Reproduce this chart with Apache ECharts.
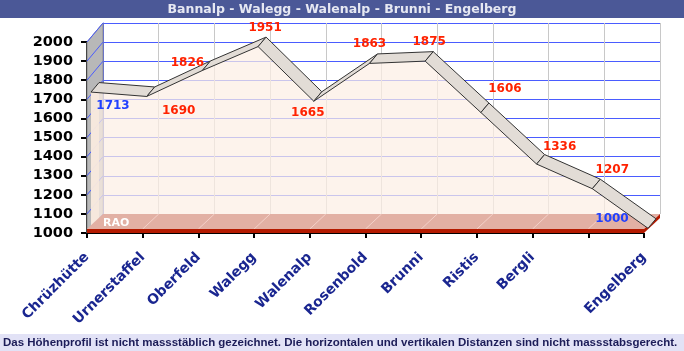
<!DOCTYPE html>
<html>
<head>
<meta charset="utf-8">
<script src="https://cdn.jsdelivr.net/npm/echarts@6/dist/echarts.min.js"></script>
<style>
  html, body { margin: 0; padding: 0; background: #fff; }
  #chart { width: 684px; height: 351px; }
</style>
</head>
<body>
<div id="chart"></div>
<script>
const title = 'Bannalp - Walegg - Walenalp - Brunni - Engelberg'
const note = 'Das Höhenprofil ist nicht massstäblich gezeichnet. Die horizontalen und vertikalen Distanzen sind nicht massstabsgerecht.'
const stations = ['Chrüzhütte', 'Urnerstaffel', 'Oberfeld', 'Walegg', 'Walenalp', 'Rosenbold', 'Brunni', 'Ristis', 'Bergli', '', 'Engelberg']
const heights = [1713, 1690, 1826, 1951, 1665, 1863, 1875, 1606, 1336, 1207, 1000]
const yMin = 1000
const yMax = 2000
const yStep = 100

// nur Darstellung: Versatz der Wertbeschriftung zum Punkt (px)
const labelOffsets = [[26, 9], [36, 10], [-11, -12], [11, -23], [-2, 7], [4, -24], [8, -24], [28, -28], [27, -22], [24, -24], [-32, -14]]
// Tiefe der 3D-Ansicht
const DX = 16
const DY = -19

const myChart = echarts.init(document.getElementById('chart'))

function shift (p, k) {
  return [p[0] + DX * k, p[1] + DY * k]
}

function renderProfile (params, api) {
  const children = []
  const n = heights.length
  const base0 = api.coord([0, yMin])
  const baseN = api.coord([n - 1, yMin])
  const top0 = api.coord([0, yMax])

  // Seitenwand links
  children.push({
    type: 'polygon',
    shape: { points: [top0, shift(top0, 1), shift(base0, 1), base0] },
    style: { fill: '#b8b8b8', stroke: '#8a8a8a', lineWidth: 1 }
  })
  for (let v = yMin; v <= yMax; v += yStep) {
    const p = api.coord([0, v])
    children.push({
      type: 'line',
      shape: { x1: p[0], y1: p[1], x2: p[0] + DX, y2: p[1] + DY },
      style: { stroke: '#4a5cff', lineWidth: 1 }
    })
  }

  const pts = heights.map((h, i) => api.coord([i, h]))
  const front = pts.map(p => shift(p, 0.25))
  const back = pts.map(p => shift(p, 0.75))

  // Fläche unter dem Profil
  children.push({
    type: 'polygon',
    shape: { points: [front[0], back[0], shift(base0, 0.75), shift(base0, 0.25)] },
    style: { fill: 'rgba(236,218,204,0.85)' }
  })
  children.push({
    type: 'polygon',
    shape: { points: front.concat([shift(baseN, 0.25), shift(base0, 0.25)]) },
    style: { fill: 'rgba(252,238,228,0.72)' }
  })

  // Boden
  const b = base0[1]
  children.push({
    type: 'polygon',
    shape: { points: [[base0[0], b - 4], [baseN[0], b - 4], [baseN[0] + DX, b + DY], [base0[0] + DX, b + DY]] },
    style: { fill: '#e2b0a4' }
  })
  for (let i = 1; i < n; i++) {
    const x = api.coord([i, yMin])[0]
    children.push({
      type: 'line',
      shape: { x1: x, y1: b - 4, x2: x + DX, y2: b + DY },
      style: { stroke: 'rgba(255,230,225,0.6)', lineWidth: 1 }
    })
  }
  children.push({
    type: 'polygon',
    shape: { points: [[base0[0], b - 4], [baseN[0], b - 4], [baseN[0], b], [base0[0], b]] },
    style: { fill: '#b41a00' }
  })
  children.push({
    type: 'polygon',
    shape: { points: [[baseN[0], b - 4], [baseN[0] + DX, b + DY], [baseN[0] + DX, b + DY + 4], [baseN[0], b]] },
    style: { fill: '#b41a00' }
  })
  children.push({
    type: 'text',
    x: base0[0] + 16,
    y: b - 10,
    style: { text: 'RAO', fill: '#ffffff', font: 'bold 11px "DejaVu Sans"', align: 'left', verticalAlign: 'middle' }
  })

  // Band
  for (let i = 0; i < n - 1; i++) {
    children.push({
      type: 'polygon',
      shape: { points: [front[i], front[i + 1], back[i + 1], back[i]] },
      style: { fill: '#e2dcd6', stroke: '#333333', lineWidth: 1 }
    })
  }

  // Werte
  heights.forEach((h, i) => {
    const blue = i === 0 || i === n - 1
    children.push({
      type: 'text',
      x: pts[i][0] + labelOffsets[i][0],
      y: pts[i][1] + labelOffsets[i][1],
      style: {
        text: String(h),
        fill: blue ? '#2040ff' : '#ff2200',
        font: 'bold 12px "DejaVu Sans"',
        align: 'center',
        verticalAlign: 'middle'
      }
    })
  })

  return { type: 'group', children: children }
}

const option = {
  animation: false,
  backgroundColor: '#ffffff',
  grid: [
    { left: 103, right: 24, top: 23, bottom: 137 },
    { left: 87, right: 40, top: 42, bottom: 118 }
  ],
  xAxis: [
    {
      type: 'category',
      gridIndex: 0,
      data: stations,
      boundaryGap: false,
      axisLine: { show: false },
      axisTick: { show: false },
      axisLabel: { show: false },
      splitLine: { show: true, interval: 0, lineStyle: { color: '#c8c8c8', width: 1 } }
    },
    {
      type: 'category',
      gridIndex: 1,
      data: stations,
      boundaryGap: false,
      axisLine: { show: true, lineStyle: { color: '#000', width: 1 } },
      axisTick: { show: true, interval: 0, length: 5, lineStyle: { color: '#000', width: 2 } },
      axisLabel: {
        interval: 0,
        rotate: 45,
        margin: 22,
        color: '#1a2690',
        fontWeight: 'bold',
        fontSize: 14,
        fontFamily: 'DejaVu Sans'
      },
      splitLine: { show: false }
    }
  ],
  yAxis: [
    {
      type: 'value',
      gridIndex: 0,
      min: yMin,
      max: yMax,
      interval: yStep,
      axisLine: { show: true, lineStyle: { color: '#4a5cff' } },
      axisTick: { show: false },
      axisLabel: { show: false },
      splitLine: { show: true, lineStyle: { color: '#4a5cff', width: 1 } }
    },
    {
      type: 'value',
      gridIndex: 1,
      min: yMin,
      max: yMax,
      interval: yStep,
      axisLine: { show: true, lineStyle: { color: '#000', width: 2 } },
      axisTick: { show: true, length: 6, lineStyle: { color: '#000', width: 2 } },
      axisLabel: {
        margin: 14,
        color: '#000',
        fontWeight: 'bold',
        fontSize: 14.5,
        fontFamily: 'DejaVu Sans',
        formatter: function (v) { return String(v) }
      },
      splitLine: { show: false }
    }
  ],
  series: [
    {
      type: 'custom',
      xAxisIndex: 1,
      yAxisIndex: 1,
      silent: true,
      z: 10,
      data: [[0, yMin]],
      renderItem: renderProfile
    }
  ],
  graphic: [
    {
      type: 'rect',
      left: 0,
      top: 0,
      shape: { width: 684, height: 18 },
      style: { fill: '#4b5897' }
    },
    {
      type: 'text',
      left: 'center',
      top: 3,
      style: { text: title, fill: '#e6e8f2', font: 'bold 12.5px "DejaVu Sans"' }
    },
    {
      type: 'rect',
      left: 0,
      top: 334,
      shape: { width: 684, height: 17 },
      style: { fill: '#e2e2f6' }
    },
    {
      type: 'text',
      left: 3,
      top: 337,
      style: { text: note, fill: '#1c1c58', font: 'bold 11.5px "Liberation Sans"' }
    }
  ]
}

myChart.setOption(option)
</script>
</body>
</html>
